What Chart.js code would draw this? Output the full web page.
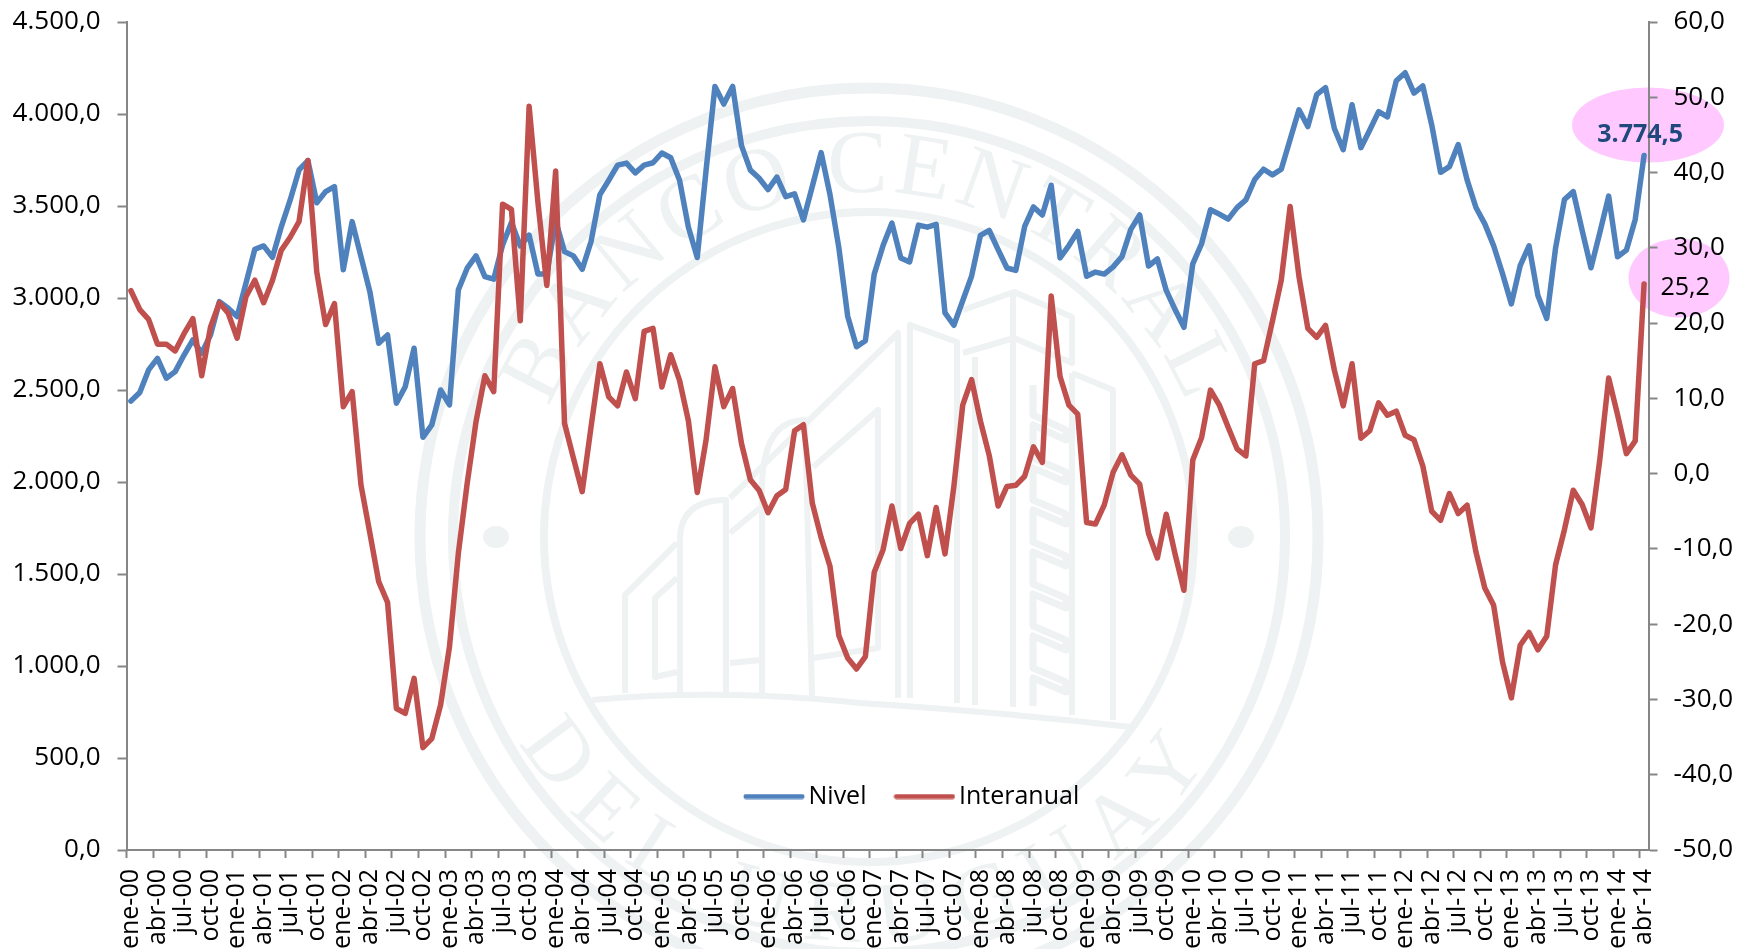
<!DOCTYPE html>
<html lang="es">
<head>
<meta charset="utf-8">
<title>Nivel e Interanual</title>
<script src="https://cdn.jsdelivr.net/npm/chart.js@4/dist/chart.umd.min.js"></script>
<style>
html,body{margin:0;padding:0;background:#fff;width:1741px;height:949px;overflow:hidden}
#wm,#c{position:absolute;left:0;top:0}
</style>
</head>
<body>
<svg id="wm" width="1741" height="949" viewBox="0 0 1741 949" xmlns="http://www.w3.org/2000/svg">
  <defs>
    <path id="arcTop" d="M 524 537 A 345 345 0 0 1 1214 537"/>
    <path id="arcBot" d="M 464 537 A 405 405 0 0 0 1274 537"/>
  </defs>
  <g fill="none" stroke="#eef2f2">
    <circle cx="869" cy="537" r="449" stroke-width="11"/>
    <circle cx="869" cy="537" r="416" stroke-width="10"/>
    <circle cx="869" cy="537" r="325" stroke-width="8"/>
  </g>
  <g fill="#eef2f2">
    <ellipse cx="496" cy="537" rx="13" ry="11"/>
    <ellipse cx="1241" cy="537" rx="13" ry="11"/>
    <text font-family="Liberation Serif" font-size="90" letter-spacing="5" text-anchor="middle"><textPath href="#arcTop" startOffset="50%">BANCO CENTRAL</textPath></text>
    <text font-family="Liberation Serif" font-size="88" letter-spacing="20" text-anchor="middle"><textPath href="#arcBot" startOffset="50%">DEL URUGUAY</textPath></text>
  </g>
  <g id="bld" fill="none" stroke="#eef2f2" stroke-width="6" stroke-linejoin="round">
    <path d="M592 700 Q 720 688 860 703 Q 1000 712 1131 727"/>
    <path d="M625 693 V595 L677 543"/>
    <path d="M677 578 L655 598 V677 L677 672"/>
    <path d="M680 693 V540 Q680 500 726 500 V693"/>
    <path d="M730 498 L898 333 V698"/>
    <path d="M762 693 V490 Q762 420 805 420 L812 696"/>
    <path d="M730 533 L760 508 M813 467 L878 410 V648 L813 658 M730 663 L760 660"/>
    <path d="M910 698 V325 L957 342 V703"/>
    <path d="M963 310 L1014 292 L1072 317 V363 L1014 338 L963 353"/>
    <path d="M1013 292 V707 M975 357 V705"/>
    <path d="M1072 373 L1113 390 V720 M1072 373 V715"/>
    <path stroke-width="7" d="M1033 385 V415 L1066 430 V440 L1033 425 V458 L1066 472 V482 L1033 468 V500 L1066 514 V524 L1033 510 V542 L1066 556 V566 L1033 552 V584 L1066 598 V608 L1033 594 V626 L1066 640 V650 L1033 636 V668 L1066 682 V692 L1033 678 V706"/>
  </g>
  <ellipse cx="1648" cy="125" rx="76" ry="37.5" fill="#ffc9ff"/>
  <ellipse cx="1679" cy="278" rx="50.5" ry="39.5" fill="#ffc9ff"/>
</svg>
<canvas id="c" width="1741" height="949"></canvas>
<script>
const monthNames = ['ene','feb','mar','abr','may','jun','jul','ago','sep','oct','nov','dic'];
const years = ['00','01','02','03','04','05','06','07','08','09','10','11','12','13','14'];
const categories = years.flatMap(y => monthNames.map(m => m + '-' + y)).slice(0, 172);

const nivel = [
  2440,2486,2609,2672,2564,2600,2690,2772,2700,2800,2980,2944,
  2899,3080,3265,3283,3221,3388,3533,3696,3747,3518,3578,3605,
  3153,3415,3225,3035,2754,2799,2428,2518,2727,2243,2310,2500,
  2419,3044,3162,3229,3116,3102,3288,3410,3283,3342,3130,3130,
  3420,3252,3229,3156,3307,3562,3640,3722,3733,3680,3722,3735,
  3788,3762,3640,3385,3220,3695,4150,4054,4150,3828,3695,3651,
  3589,3657,3551,3566,3425,3606,3790,3562,3274,2901,2735,2768,
  3130,3285,3407,3218,3196,3396,3385,3400,2919,2852,2985,3118,
  3340,3367,3263,3163,3150,3389,3495,3451,3613,3218,3285,3362,
  3118,3141,3130,3169,3225,3373,3451,3174,3212,3041,2937,2841,
  3185,3296,3480,3456,3429,3491,3533,3644,3700,3669,3700,3861,
  4023,3932,4105,4143,3921,3806,4050,3817,3913,4013,3984,4181,
  4224,4114,4152,3941,3683,3714,3834,3642,3492,3403,3284,3133,
  2968,3176,3284,3013,2889,3272,3535,3578,3367,3164,3355,3554,
  3224,3260,3427,3774.5
];
const interanual = [
  24.3,21.8,20.5,17.2,17.2,16.3,18.6,20.6,13.0,19.5,22.7,21.3,
  18.0,23.5,25.7,22.7,25.7,29.7,31.4,33.5,41.6,26.8,19.8,22.6,
  8.9,10.9,-1.5,-7.9,-14.35,-17.1,-31.2,-31.85,-27.2,-36.4,-35.2,-30.7,
  -23.0,-10.6,-1.3,6.9,13.0,10.9,35.8,35.1,20.3,48.8,36.0,25.0,
  40.2,6.7,2.1,-2.4,6.2,14.6,10.2,9.0,13.5,9.95,18.9,19.3,
  11.5,15.8,12.4,7.0,-2.5,4.5,14.2,8.9,11.3,4.0,-0.8,-2.25,
  -5.2,-2.95,-2.1,5.7,6.5,-3.9,-8.5,-12.3,-21.5,-24.5,-25.95,-24.3,
  -13.1,-10.1,-4.3,-9.95,-6.6,-5.4,-10.9,-4.5,-10.66,-1.7,9.1,12.5,
  7.0,2.4,-4.3,-1.7,-1.55,-0.35,3.55,1.5,23.6,12.9,9.1,7.9,
  -6.5,-6.7,-4.15,0.2,2.5,-0.2,-1.4,-7.95,-11.2,-5.4,-10.7,-15.5,
  1.8,4.8,11.1,9.1,6.15,3.3,2.35,14.6,15.0,20.25,25.7,35.5,
  26.2,19.3,18.1,19.7,13.75,9.0,14.6,4.7,5.7,9.4,7.75,8.3,
  5.1,4.5,1.0,-5.0,-6.2,-2.65,-5.3,-4.2,-10.4,-15.2,-17.5,-25.0,
  -29.8,-22.8,-21.1,-23.4,-21.6,-12.1,-7.45,-2.2,-4.1,-7.2,1.9,12.7,
  7.85,2.65,4.35,25.2
];
const seriesNames = ['Nivel', 'Interanual'];
const seriesColors = ['#4f81bd', '#c0504d'];

const AXIS = '#868686';
const esNum = v => {
  const [a, b] = Number(v).toFixed(1).split('.');
  return a.replace(/\B(?=(\d{3})+(?!\d))/g, '.') + ',' + b;
};
function legendStroke(color) {
  const c = document.createElement('canvas');
  c.width = 62; c.height = 6;
  const g = c.getContext('2d');
  g.strokeStyle = color; g.lineWidth = 5; g.lineCap = 'round';
  g.beginPath(); g.moveTo(3, 3); g.lineTo(59, 3); g.stroke();
  return c;
}
const legendStrokes = seriesColors.map(legendStroke);

const noAxisPadding = s => {
  s.paddingTop = 0; s.paddingBottom = 0; s.paddingLeft = 0; s.paddingRight = 0;
};

const legendPlacement = {
  id: 'legendPlacement',
  beforeLayout(chart) {
    const lg = chart.legend;
    if (lg && !lg._patched) {
      const fit = lg.fit;
      lg.fit = function () { fit.call(this); this.height = 0; };
      lg._patched = true;
    }
  },
  afterLayout(chart) {
    const lg = chart.legend;
    lg.left = 716; lg.right = 1200; lg.top = 748; lg.bottom = 832;
  }
};
const lastValueLabels = {
  id: 'lastValueLabels',
  afterDraw(chart) {
    const { ctx, scales } = chart;
    const i = categories.length - 1;
    const px = scales.x.getPixelForValue(i);
    ctx.save();
    ctx.textAlign = 'center'; ctx.textBaseline = 'middle';
    ctx.font = 'bold 25px "Open Sans"'; ctx.fillStyle = '#1f497d';
    ctx.fillText(esNum(nivel[i]), px - 4, scales.y.getPixelForValue(nivel[i]) - 21);
    ctx.font = '25px "Open Sans"'; ctx.fillStyle = '#000';
    ctx.fillText(esNum(interanual[i]), px + 41, scales.y1.getPixelForValue(interanual[i]) + 4);
    ctx.restore();
  }
};

new Chart(document.getElementById('c'), {
  type: 'line',
  data: {
    labels: categories,
    datasets: [
      { label: seriesNames[0], data: nivel, yAxisID: 'y', order: 1,
        borderColor: seriesColors[0], backgroundColor: seriesColors[0], borderWidth: 5.5,
        pointRadius: 0, tension: 0, borderCapStyle: 'round', borderJoinStyle: 'round', fill: false },
      { label: seriesNames[1], data: interanual, yAxisID: 'y1', order: 0,
        borderColor: seriesColors[1], backgroundColor: seriesColors[1], borderWidth: 5.5,
        pointRadius: 0, tension: 0, borderCapStyle: 'round', borderJoinStyle: 'round', fill: false }
    ]
  },
  options: {
    responsive: false,
    animation: false,
    events: [],
    layout: { padding: { top: 22 } },
    plugins: {
      title: { display: false },
      tooltip: { enabled: false },
      legend: {
        display: true, position: 'bottom', align: 'start',
        labels: {
          usePointStyle: true, pointStyleWidth: 44, padding: 36, color: '#000',
          font: { family: '"Open Sans"', size: 25 },
          sort: (a, b) => a.datasetIndex - b.datasetIndex,
          generateLabels(chart) {
            const items = Chart.defaults.plugins.legend.labels.generateLabels(chart);
            items.forEach(it => { it.pointStyle = legendStrokes[it.datasetIndex]; });
            return items;
          }
        }
      }
    },
    scales: {
      x: {
        type: 'category', offset: true,
        afterFit: s => { s.height = 99; noAxisPadding(s); },
        border: { color: AXIS, width: 2 },
        grid: {
          offset: true, drawOnChartArea: false, drawTicks: true, tickLength: 8, tickWidth: 2,
          tickColor: ctx => (ctx.index % 3 === 0 ? AXIS : 'rgba(0,0,0,0)')
        },
        ticks: {
          autoSkip: false, minRotation: 90, maxRotation: 90, padding: 11, color: '#000',
          font: { family: '"Open Sans"', size: 25 },
          callback(v, i) { return i % 3 === 0 ? categories[i] : ''; }
        }
      },
      y: {
        position: 'left', min: 0, max: 4500,
        afterFit: s => { s.width = 126.5; noAxisPadding(s); },
        border: { color: AXIS, width: 2 },
        grid: { drawOnChartArea: false, tickLength: 9, tickWidth: 2, tickColor: AXIS },
        ticks: { stepSize: 500, padding: 17, color: '#000',
          font: { family: '"Open Sans"', size: 26 }, callback: esNum }
      },
      y1: {
        position: 'right', min: -50, max: 60,
        afterFit: s => { s.width = 92.5; noAxisPadding(s); },
        border: { color: AXIS, width: 2 },
        grid: { drawOnChartArea: false, tickLength: 9, tickWidth: 2, tickColor: AXIS },
        ticks: { stepSize: 10, padding: 16, color: '#000',
          font: { family: '"Open Sans"', size: 26 }, callback: esNum }
      }
    }
  },
  plugins: [legendPlacement, lastValueLabels]
});
</script>
</body>
</html>
